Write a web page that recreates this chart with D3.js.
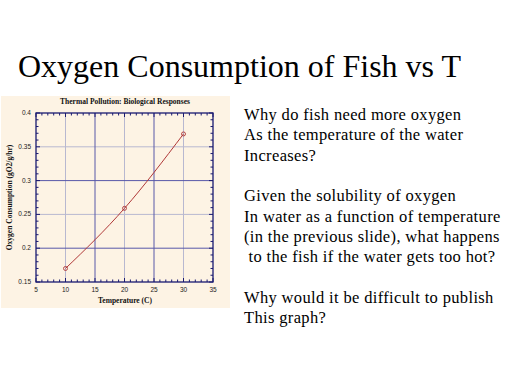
<!DOCTYPE html>
<html><head><meta charset="utf-8">
<script src="https://cdn.jsdelivr.net/npm/d3@7"></script>
<style>body{margin:0;background:#fff}svg{display:block}</style>
</head><body>
<svg id="c" width="512" height="384"></svg>
<script>
const title = "Oxygen Consumption of Fish vs T";
const chartTitle = "Thermal Pollution: Biological Responses";
const xLabel = "Temperature (C)";
const yLabel = "Oxygen Consumption (gO2/g/hr)";
const temps = [10, 20, 30];
const oxygen = [0.170, 0.259, 0.369];
const xTicks = [5, 10, 15, 20, 25, 30, 35];
const yTicks = [0.15, 0.2, 0.25, 0.3, 0.35, 0.4];
const yTickLabels = ["0.15", "0.2", "0.25", "0.3", "0.35", "0.4"];
const textLines = [
  "Why do fish need more oxygen",
  "As the temperature of the water",
  "Increases?",
  "",
  "Given the solubility of oxygen",
  "In water as a function of temperature",
  "(in the previous slide), what happens",
  " to the fish if the water gets too hot?",
  "",
  "Why would it be difficult to publish",
  "This graph?"
];

const svg = d3.select("#c");
svg.append("text").attr("x", 18).attr("y", 77)
  .attr("font-family", "Liberation Serif, Times New Roman, serif")
  .attr("font-size", 32).attr("fill", "#000").text(title);

// chart background
svg.append("rect").attr("x", 1).attr("y", 96).attr("width", 229).attr("height", 212).attr("fill", "#fdf3e4");

const L = 36, R = 213, T = 113, B = 282;
const x = d3.scaleLinear().domain([5, 35]).range([L, R]);
const y = d3.scaleLinear().domain([0.15, 0.4]).range([B, T]);
const g = svg.append("g");

// grid
const gridXDark = [15, 25], gridXLight = [10, 20, 30];
const gridYDark = [0.2, 0.3], gridYLight = [0.25, 0.35];
g.selectAll(".gxl").data(gridXLight).join("line").attr("x1", d => x(d)).attr("x2", d => x(d)).attr("y1", T).attr("y2", B).attr("stroke", "#b8b8d0").attr("stroke-width", 1);
g.selectAll(".gyl").data(gridYLight).join("line").attr("y1", d => y(d)).attr("y2", d => y(d)).attr("x1", L).attr("x2", R).attr("stroke", "#b8b8d0").attr("stroke-width", 1);
g.selectAll(".gxd").data(gridXDark).join("line").attr("x1", d => x(d)).attr("x2", d => x(d)).attr("y1", T).attr("y2", B).attr("stroke", "#5858a8").attr("stroke-width", 1);
g.selectAll(".gyd").data(gridYDark).join("line").attr("y1", d => y(d)).attr("y2", d => y(d)).attr("x1", L).attr("x2", R).attr("stroke", "#5858a8").attr("stroke-width", 1);

// minor ticks
const xMinor = d3.range(5, 35.01, 1);
const yMinor = d3.range(0.15, 0.4001, 0.01);
const tc = "#1a1a70";
xMinor.forEach(v => {
  const len = (v % 5 === 0) ? 4 : 2.5;
  g.append("line").attr("x1", x(v)).attr("x2", x(v)).attr("y1", B).attr("y2", B - len).attr("stroke", tc);
  g.append("line").attr("x1", x(v)).attr("x2", x(v)).attr("y1", T).attr("y2", T + len).attr("stroke", tc);
});
yMinor.forEach((v, i) => {
  const len = (i % 5 === 0) ? 4 : 2.5;
  g.append("line").attr("y1", y(v)).attr("y2", y(v)).attr("x1", L).attr("x2", L + len).attr("stroke", tc);
  g.append("line").attr("y1", y(v)).attr("y2", y(v)).attr("x1", R).attr("x2", R - len).attr("stroke", tc);
});

// frame
g.append("rect").attr("x", L).attr("y", T).attr("width", R - L).attr("height", B - T).attr("fill", "none").attr("stroke", tc).attr("stroke-width", 1.3);

// tick labels
const lf = "Liberation Sans, Arial, sans-serif";
g.selectAll(".xt").data(xTicks).join("text").attr("x", d => x(d)).attr("y", 292).attr("text-anchor", "middle")
  .attr("font-family", lf).attr("font-size", 6.5).attr("fill", "#222").text(d => d);
g.selectAll(".yt").data(yTicks).join("text").attr("x", 31).attr("y", d => y(d) + 2).attr("text-anchor", "end")
  .attr("font-family", lf).attr("font-size", 6.5).attr("fill", "#222").text((d, i) => yTickLabels[i]);

// labels
svg.append("text").attr("x", 125).attr("y", 104).attr("text-anchor", "middle").attr("font-family", "Liberation Serif, serif")
  .attr("font-weight", "bold").attr("font-size", 7.5).attr("fill", "#111").text(chartTitle);
svg.append("text").attr("x", 125).attr("y", 303).attr("text-anchor", "middle").attr("font-family", "Liberation Serif, serif")
  .attr("font-weight", "bold").attr("font-size", 7.5).attr("fill", "#111").text(xLabel);
svg.append("text").attr("transform", "translate(12," + ((T + B) / 2) + ") rotate(-90)").attr("text-anchor", "middle")
  .attr("font-family", "Liberation Serif, serif").attr("font-weight", "bold").attr("font-size", 7.5).attr("fill", "#111").text(yLabel);

// data line
const pts = temps.map((t, i) => [t, oxygen[i]]);
const line = d3.line().x(d => x(d[0])).y(d => y(d[1])).curve(d3.curveNatural);
g.append("path").attr("d", line(pts)).attr("fill", "none").attr("stroke", "#b03838").attr("stroke-width", 1);
g.selectAll(".pt").data(pts).join("circle").attr("cx", d => x(d[0])).attr("cy", d => y(d[1])).attr("r", 2)
  .attr("fill", "none").attr("stroke", "#b03838").attr("stroke-width", 0.9);

// right text
svg.append("g").selectAll("text").data(textLines).join("text")
  .attr("x", 244).attr("y", (d, i) => 120 + i * 20.3)
  .attr("font-family", "Liberation Serif, Times New Roman, serif").attr("font-size", 16.5)
  .attr("letter-spacing", 0.35).attr("fill", "#000")
  .attr("xml:space", "preserve").style("white-space", "pre").text(d => d);
</script>
</body></html>
